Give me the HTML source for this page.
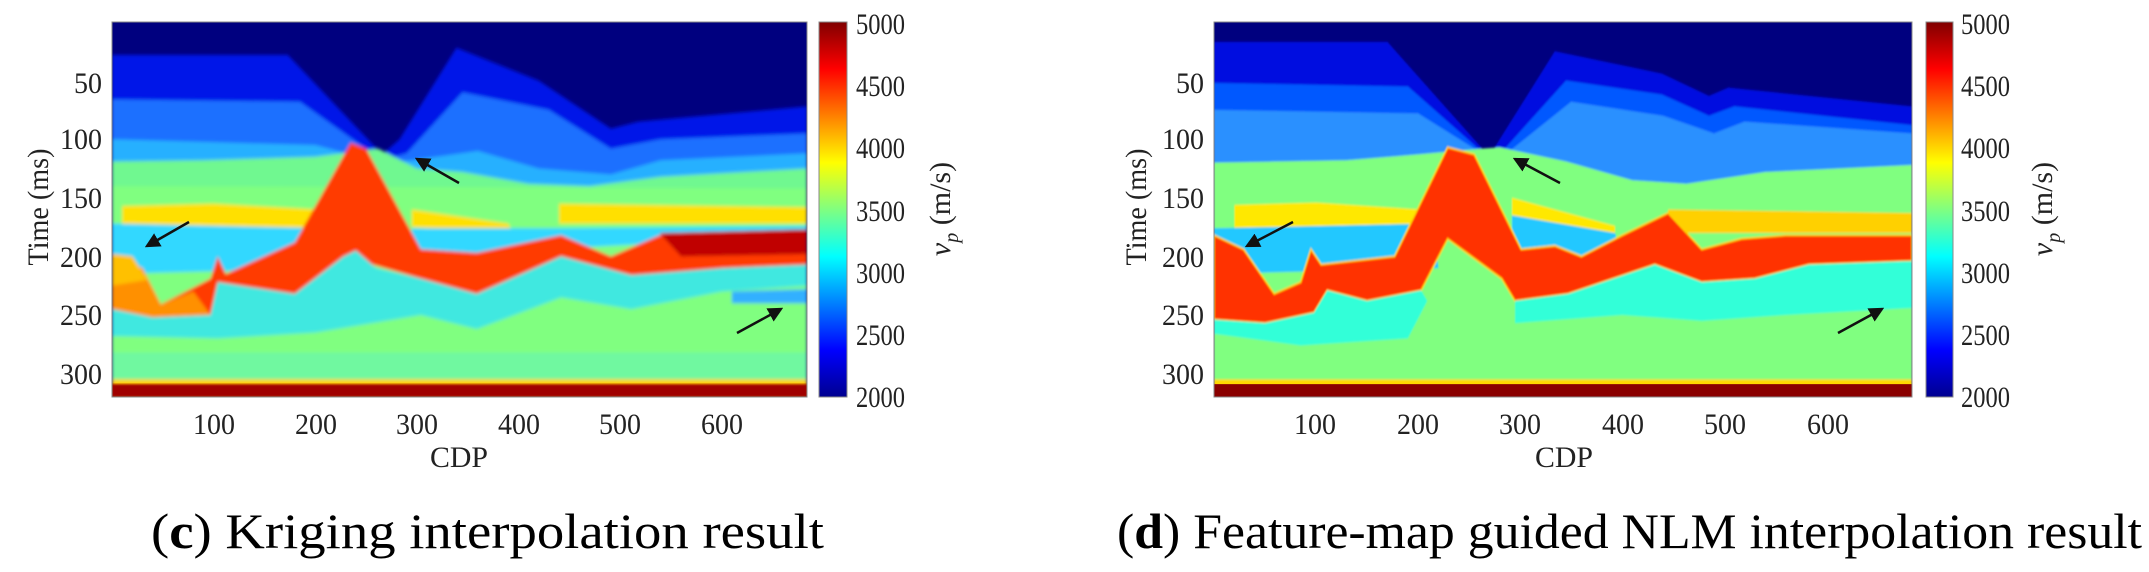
<!DOCTYPE html>
<html><head><meta charset="utf-8"><style>
html,body{margin:0;padding:0;background:#fff;}
svg{display:block}
text{font-family:"Liberation Serif",serif;fill:#222}
</style></head><body>
<svg width="2149" height="572" viewBox="0 0 2149 572" xmlns="http://www.w3.org/2000/svg">
<defs>
<linearGradient id="jet" x1="0" y1="1" x2="0" y2="0">
<stop offset="0" stop-color="#00008f"/><stop offset="0.125" stop-color="#0000ff"/>
<stop offset="0.375" stop-color="#00ffff"/><stop offset="0.5" stop-color="#80ff80"/><stop offset="0.625" stop-color="#ffff00"/>
<stop offset="0.875" stop-color="#ff0000"/><stop offset="1" stop-color="#800000"/>
</linearGradient>
<filter id="bl" x="-5%" y="-5%" width="110%" height="110%"><feGaussianBlur stdDeviation="1.6"/></filter>
<filter id="bl2" x="-5%" y="-5%" width="110%" height="110%"><feGaussianBlur stdDeviation="0.8"/></filter>
<marker id="ah" markerWidth="6" markerHeight="6" refX="5" refY="3" orient="auto" markerUnits="strokeWidth"><path d="M0,0 L6,3 L0,6 z" fill="#111"/></marker>
</defs>

<!-- LEFT PLOT (c) -->
<svg x="112" y="22" width="695" height="375" viewBox="0 0 684 320" preserveAspectRatio="none">
<rect width="684" height="320" fill="#00007f"/>
<g filter="url(#bl)">
<path d="M0,28 L173,28 L266,113 L283,100 L339,22 L420,50 L491,91 L518,85 L684,72 L684,320 L0,320Z" fill="#0018e8"/>
<path d="M0,66 L185,68 L266,118 L290,112 L345,60 L430,75 L491,108 L540,100 L684,95 L684,320 L0,320Z" fill="#1a70ff"/>
<path d="M0,100 L200,105 L266,120 L295,118 L360,110 L420,125 L491,130 L540,118 L684,112 L684,320 L0,320Z" fill="#28b0ff"/>
<path d="M0,119 L90,118 L200,115 L262,108 L300,125 L345,128 L410,138 L470,140 L540,132 L684,125 L684,320 L0,320Z" fill="#70f890"/>
<path d="M0,140 L684,142 L684,320 L0,320Z" fill="#80ff80"/>
<path d="M10,157 L100,155 L203,160 L215,175 L10,178Z" fill="#ffe000"/>
<path d="M295,160 L390,172 L395,180 L295,175Z" fill="#ffe000"/>
<path d="M440,155 L684,158 L684,172 L440,172Z" fill="#ffe000"/>
<path d="M0,172 L210,176 L215,210 L0,215Z" fill="#30d8ff"/>
<path d="M295,176 L440,176 L684,174 L684,182 L295,200Z" fill="#30d8ff"/>
<path d="M0,200 L30,210 L48,241 L97,219 L104,200 L112,215 L180,188 L235,103 L250,108 L304,194 L359,197 L442,182 L491,200 L539,182 L684,179 L684,207 L600,210 L539,218 L511,216 L442,200 L359,232 L304,219 L228,200 L180,232 L104,222 L97,250 L40,252 L0,245Z" fill="#ff3a00"/>
<path d="M0,200 L30,210 L48,241 L80,230 L97,250 L40,252 L0,245Z" fill="#ff9000"/>
<path d="M0,198 L20,200 L35,220 L0,225Z" fill="#ffc000"/>
<path d="M539,180 L684,177 L684,198 L560,200 Z" fill="#c00000"/>
<path d="M104,222 L180,232 L228,200 L240,195 L260,210 L304,219 L359,232 L442,200 L511,216 L600,210 L684,207 L684,225 L600,230 L511,245 L442,235 L359,262 L304,250 L200,265 L104,270 L0,268 L0,245 L40,252 L97,250Z" fill="#40e8e0"/>
<path d="M0,282 L684,282 L684,305 L0,305Z" fill="#70f8a0"/>
<path d="M610,230 L684,228 L684,240 L610,240Z" fill="#30b0ff"/>
<path d="M0,305 L684,305 L684,320 L0,320Z" fill="#ffd000"/>
</g>
<path d="M0,309 L684,309 L684,320 L0,320Z" fill="#a00000" filter="url(#bl2)"/>
</svg>
<rect x="112" y="22" width="695" height="375" fill="none" stroke="#888" stroke-width="1"/>

<!-- RIGHT PLOT (d) -->
<svg x="1214" y="22" width="698" height="375" viewBox="0 0 684 320" preserveAspectRatio="none">
<rect width="684" height="320" fill="#00007f"/>
<g filter="url(#bl2)">
<path d="M0,17 L170,17 L268,113 L275,107 L334,25 L439,44 L485,63 L504,56 L684,72 L684,320 L0,320Z" fill="#0010e0"/>
<path d="M0,52 L190,55 L268,115 L285,108 L345,50 L439,62 L485,80 L510,72 L684,88 L684,320 L0,320Z" fill="#0058ff"/>
<path d="M0,75 L200,78 L268,115 L290,110 L350,68 L440,80 L490,95 L520,85 L684,95 L684,320 L0,320Z" fill="#2a90ff"/>
<path d="M0,120 L130,118 L200,113 L262,108 L280,107 L345,119 L410,135 L463,138 L540,128 L684,122 L684,320 L0,320Z" fill="#80ff80"/>
<path d="M20,156 L100,154 L203,160 L210,172 L20,176Z" fill="#ffe800"/>
<path d="M292,150 L393,174 L393,182 L292,165Z" fill="#ffe800"/>
<path d="M445,160 L684,163 L684,180 L445,180Z" fill="#ffd000"/>
<path d="M0,176 L215,172 L220,210 L0,215Z" fill="#20c8ff"/>
<path d="M292,165 L393,180 L400,200 L292,200Z" fill="#20c8ff"/>
<path d="M0,182 L29,194 L59,232 L85,222 L95,194 L105,207 L177,200 L229,107 L255,113 L301,194 L334,191 L360,200 L400,182 L445,163 L478,194 L517,185 L560,182 L684,182 L684,204 L583,207 L530,219 L478,222 L432,207 L347,232 L295,238 L282,219 L229,185 L203,229 L150,238 L111,229 L98,248 L50,257 L0,254Z" fill="#ff3300" stroke="#ffd000" stroke-width="1.5"/>
<path d="M98,248 L111,229 L150,238 L203,229 L209,238 L190,270 L85,276 L0,266 L0,254 L50,257Z" fill="#30ffd8"/>
<path d="M295,238 L347,232 L432,207 L478,222 L530,219 L583,207 L684,204 L684,244 L560,250 L478,255 L400,250 L295,257Z" fill="#30ffd8"/>
<path d="M0,305 L684,305 L684,312 L0,312Z" fill="#ffd800"/>
</g>
<path d="M0,309 L684,309 L684,320 L0,320Z" fill="#8a0000"/>
</svg>
<rect x="1214" y="22" width="698" height="375" fill="none" stroke="#888" stroke-width="1"/>

<!-- colorbars -->
<rect x="819" y="22" width="28" height="375" fill="url(#jet)" stroke="#888"/>
<rect x="1926" y="22" width="27" height="375" fill="url(#jet)" stroke="#888"/>

<!-- arrows -->
<g stroke="#111" stroke-width="2.5" marker-end="url(#ah)">
<line x1="189" y1="222" x2="147" y2="246"/>
<line x1="459" y1="183" x2="417" y2="159"/>
<line x1="737" y1="333" x2="781" y2="309"/>
<line x1="1293" y1="222" x2="1247" y2="246"/>
<line x1="1560" y1="183" x2="1515" y2="159"/>
<line x1="1838" y1="333" x2="1882" y2="309"/>
</g>

<!-- left axis labels -->
<g font-size="30">
<text x="102" y="93" text-anchor="end" textLength="28" lengthAdjust="spacingAndGlyphs">50</text>
<text x="102" y="149" text-anchor="end" textLength="42" lengthAdjust="spacingAndGlyphs">100</text>
<text x="102" y="208" text-anchor="end" textLength="42" lengthAdjust="spacingAndGlyphs">150</text>
<text x="102" y="267" text-anchor="end" textLength="42" lengthAdjust="spacingAndGlyphs">200</text>
<text x="102" y="325" text-anchor="end" textLength="42" lengthAdjust="spacingAndGlyphs">250</text>
<text x="102" y="384" text-anchor="end" textLength="42" lengthAdjust="spacingAndGlyphs">300</text>
<text x="193" y="434" textLength="42" lengthAdjust="spacingAndGlyphs">100</text>
<text x="295" y="434" textLength="42" lengthAdjust="spacingAndGlyphs">200</text>
<text x="396" y="434" textLength="42" lengthAdjust="spacingAndGlyphs">300</text>
<text x="498" y="434" textLength="42" lengthAdjust="spacingAndGlyphs">400</text>
<text x="599" y="434" textLength="42" lengthAdjust="spacingAndGlyphs">500</text>
<text x="701" y="434" textLength="42" lengthAdjust="spacingAndGlyphs">600</text>
<text x="430" y="467" textLength="58" lengthAdjust="spacingAndGlyphs">CDP</text>
<text transform="translate(48,207) rotate(-90)" text-anchor="middle" textLength="117" lengthAdjust="spacingAndGlyphs">Time (ms)</text>
<text x="856" y="34" textLength="49" lengthAdjust="spacingAndGlyphs">5000</text>
<text x="856" y="96" textLength="49" lengthAdjust="spacingAndGlyphs">4500</text>
<text x="856" y="158" textLength="49" lengthAdjust="spacingAndGlyphs">4000</text>
<text x="856" y="221" textLength="49" lengthAdjust="spacingAndGlyphs">3500</text>
<text x="856" y="283" textLength="49" lengthAdjust="spacingAndGlyphs">3000</text>
<text x="856" y="345" textLength="49" lengthAdjust="spacingAndGlyphs">2500</text>
<text x="856" y="407" textLength="49" lengthAdjust="spacingAndGlyphs">2000</text>
<text transform="translate(950,209) rotate(-90)" text-anchor="middle"><tspan font-style="italic">v</tspan><tspan font-size="20" font-style="italic" dy="8">p</tspan><tspan dy="-8"> (m/s)</tspan></text>
</g>

<!-- right axis labels -->
<g font-size="30">
<text x="1204" y="93" text-anchor="end" textLength="28" lengthAdjust="spacingAndGlyphs">50</text>
<text x="1204" y="149" text-anchor="end" textLength="42" lengthAdjust="spacingAndGlyphs">100</text>
<text x="1204" y="208" text-anchor="end" textLength="42" lengthAdjust="spacingAndGlyphs">150</text>
<text x="1204" y="267" text-anchor="end" textLength="42" lengthAdjust="spacingAndGlyphs">200</text>
<text x="1204" y="325" text-anchor="end" textLength="42" lengthAdjust="spacingAndGlyphs">250</text>
<text x="1204" y="384" text-anchor="end" textLength="42" lengthAdjust="spacingAndGlyphs">300</text>
<text x="1294" y="434" textLength="42" lengthAdjust="spacingAndGlyphs">100</text>
<text x="1397" y="434" textLength="42" lengthAdjust="spacingAndGlyphs">200</text>
<text x="1499" y="434" textLength="42" lengthAdjust="spacingAndGlyphs">300</text>
<text x="1602" y="434" textLength="42" lengthAdjust="spacingAndGlyphs">400</text>
<text x="1704" y="434" textLength="42" lengthAdjust="spacingAndGlyphs">500</text>
<text x="1807" y="434" textLength="42" lengthAdjust="spacingAndGlyphs">600</text>
<text x="1535" y="467" textLength="58" lengthAdjust="spacingAndGlyphs">CDP</text>
<text transform="translate(1146,207) rotate(-90)" text-anchor="middle" textLength="117" lengthAdjust="spacingAndGlyphs">Time (ms)</text>
<text x="1961" y="34" textLength="49" lengthAdjust="spacingAndGlyphs">5000</text>
<text x="1961" y="96" textLength="49" lengthAdjust="spacingAndGlyphs">4500</text>
<text x="1961" y="158" textLength="49" lengthAdjust="spacingAndGlyphs">4000</text>
<text x="1961" y="221" textLength="49" lengthAdjust="spacingAndGlyphs">3500</text>
<text x="1961" y="283" textLength="49" lengthAdjust="spacingAndGlyphs">3000</text>
<text x="1961" y="345" textLength="49" lengthAdjust="spacingAndGlyphs">2500</text>
<text x="1961" y="407" textLength="49" lengthAdjust="spacingAndGlyphs">2000</text>
<text transform="translate(2052,209) rotate(-90)" text-anchor="middle"><tspan font-style="italic">v</tspan><tspan font-size="20" font-style="italic" dy="8">p</tspan><tspan dy="-8"> (m/s)</tspan></text>
</g>

<!-- captions -->
<g font-size="50">
<text x="151" y="548" textLength="673" lengthAdjust="spacingAndGlyphs" style="fill:#000">(<tspan font-weight="bold">c</tspan>) Kriging interpolation result</text>
<text x="1117" y="548" textLength="1025" lengthAdjust="spacingAndGlyphs" style="fill:#000">(<tspan font-weight="bold">d</tspan>) Feature-map guided NLM interpolation result</text>
</g>
</svg>
</body></html>
